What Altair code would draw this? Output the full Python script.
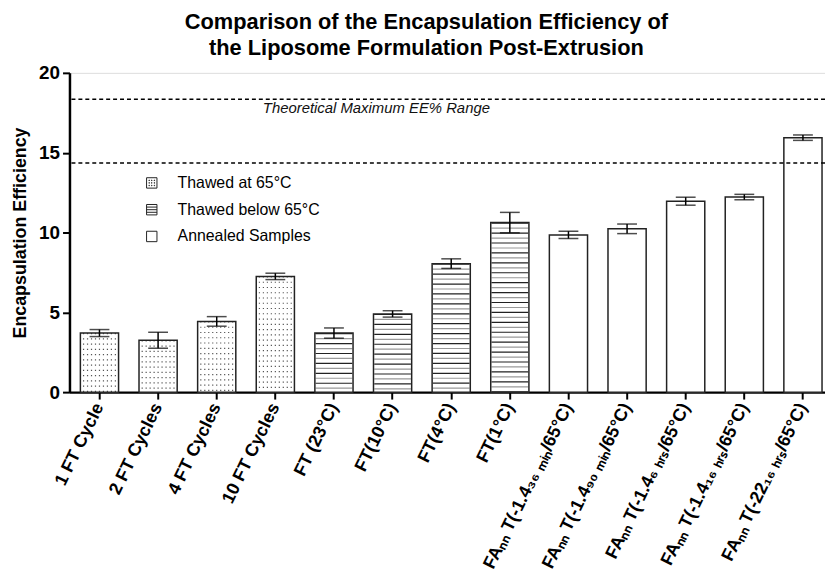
import altair as alt
import pandas as pd

# ---- data ----
labels = [
    "1 FT Cycle", "2 FT Cycles", "4 FT Cycles", "10 FT Cycles",
    "FT (23°C)", "FT(10°C)", "FT(4°C)", "FT(1°C)",
    "FAₙₙ T(-1.4₃₆ ₘᵢₙ/65°C)", "FAₙₙ T(-1.4₉₀ ₘᵢₙ/65°C)",
    "FAₙₙ T(-1.4₆ ₕᵣₛ/65°C)", "FAₙₙ T(-1.4₁₆ ₕᵣₛ/65°C)",
    "FAₙₙ T(-22₁₆ ₕᵣₛ/65°C)",
]
values = [3.70, 3.25, 4.43, 7.25, 3.70, 4.90, 8.05, 10.62, 9.85, 10.23, 11.96, 12.22, 15.94]
errors = [0.22, 0.50, 0.30, 0.20, 0.32, 0.20, 0.30, 0.64, 0.23, 0.30, 0.25, 0.17, 0.17]
group_names = ["Thawed at 65°C", "Thawed below 65°C", "Annealed Samples"]
groups = [group_names[0]] * 4 + [group_names[1]] * 4 + [group_names[2]] * 5
theoretical_range = [18.35, 14.35]
range_label = "Theoretical Maximum EE% Range"
y_ticks = [0, 5, 10, 15, 20]

df = pd.DataFrame({"label": labels, "value": values, "err": errors, "group": groups})
df["lo"] = df["value"] - df["err"]
df["hi"] = df["value"] + df["err"]

# dot-pattern columns for the "thawed at 65" bars (same values, one row per dot column)
n_cols = 9
dots = pd.DataFrame(
    [{"label": r.label, "value": r.value, "col": c}
     for r in df[df.group == group_names[0]].itertuples() for c in range(n_cols)]
)
stripes = df[df.group == group_names[1]]

FONT = "Liberation Sans"

x = alt.X("label:N", sort=labels,
          scale=alt.Scale(paddingInner=0.3488, paddingOuter=0.1184, align=0.786),
          axis=alt.Axis(title=None, labelAngle=-64, labelAlign="right", labelBaseline="middle",
                        labelFont=FONT, labelFontSize=18, labelFontWeight="bold", labelColor="black",
                        labelPadding=5, tickSize=7, tickWidth=2, tickColor="black",
                        domainWidth=2.5, domainColor="black", labelLimit=400))
y_scale = alt.Scale(domain=[0, 20], nice=False)
y = alt.Y("value:Q", scale=y_scale,
          axis=alt.Axis(title="Encapsulation  Efficiency", values=y_ticks, grid=False,
                        titleFont=FONT, titleFontSize=18, titleFontWeight="bold", titleColor="black",
                        titlePadding=9,
                        labelFont=FONT, labelFontSize=19, labelFontWeight="bold", labelColor="black",
                        labelPadding=3, tickSize=7, tickWidth=2, tickColor="black",
                        domainWidth=2.5, domainColor="black"))

base = alt.Chart(df)

bars_fill = base.mark_bar(fill="white", strokeWidth=0).encode(x=x, y=y)

dot_layer = alt.Chart(dots).mark_rule(color="#555", strokeWidth=1.2, strokeDash=[1.2, 4.1]).encode(
    x=alt.X("label:N", sort=labels),
    xOffset=alt.XOffset("col:O", scale=alt.Scale(paddingInner=0, paddingOuter=0.3)),
    y=alt.Y("value:Q", scale=y_scale),
    y2=alt.datum(0),
)

stripe_black = alt.Chart(stripes).mark_rule(color="#222", strokeWidth=37, strokeDash=[1.2, 8.8]).encode(
    x=alt.X("label:N", sort=labels), y=alt.Y("value:Q", scale=y_scale), y2=alt.datum(0))
stripe_gray = alt.Chart(stripes).mark_rule(color="#999", strokeWidth=37, strokeDash=[1.2, 8.8],
                                           strokeDashOffset=-5).encode(
    x=alt.X("label:N", sort=labels), y=alt.Y("value:Q", scale=y_scale), y2=alt.datum(0))

bars_outline = base.mark_bar(fillOpacity=0, stroke="#222", strokeWidth=1.5).encode(
    x=alt.X("label:N", sort=labels), y=alt.Y("value:Q", scale=y_scale))

err_rule = base.mark_rule(color="black", strokeWidth=1.5).encode(
    x=alt.X("label:N", sort=labels), y=alt.Y("lo:Q", scale=y_scale), y2="hi:Q")
cap_hi = base.mark_tick(color="black", size=20, thickness=1.5, orient="horizontal").encode(
    x=alt.X("label:N", sort=labels), y=alt.Y("hi:Q", scale=y_scale))
cap_lo = base.mark_tick(color="black", size=20, thickness=1.5, orient="horizontal").encode(
    x=alt.X("label:N", sort=labels), y=alt.Y("lo:Q", scale=y_scale))

# legend via hidden points with custom pattern symbols
dot_path = ("M-1,-1H1V1H-1Z"
            "M-0.55,-0.55h0.1v0.1h-0.1Z M-0.05,-0.55h0.1v0.1h-0.1Z M0.45,-0.55h0.1v0.1h-0.1Z"
            "M-0.55,-0.05h0.1v0.1h-0.1Z M-0.05,-0.05h0.1v0.1h-0.1Z M0.45,-0.05h0.1v0.1h-0.1Z"
            "M-0.55,0.45h0.1v0.1h-0.1Z M-0.05,0.45h0.1v0.1h-0.1Z M0.45,0.45h0.1v0.1h-0.1Z")
stripe_path = "M-1,-1H1V1H-1Z M-1,-0.5H1 M-1,0H1 M-1,0.5H1"
legend_layer = base.mark_point(filled=False, color="#222", opacity=0).encode(
    x=alt.X("label:N", sort=labels), y=alt.Y("value:Q", scale=y_scale),
    shape=alt.Shape("group:N", sort=group_names,
                    scale=alt.Scale(domain=group_names, range=[dot_path, stripe_path, "square"]),
                    legend=alt.Legend(title=None, orient="none", legendX=75, legendY=103,
                                      labelFont=FONT, labelFontSize=16, labelColor="black",
                                      labelOffset=18, rowPadding=11,
                                      symbolSize=110, symbolOpacity=1, symbolFillColor="white",
                                      symbolStrokeColor="#222", symbolStrokeWidth=1)),
)

range_df = pd.DataFrame({"y": theoretical_range})
range_lines = alt.Chart(range_df).mark_rule(color="black", strokeWidth=1.5, strokeDash=[4, 3]).encode(
    y=alt.Y("y:Q", scale=y_scale))
range_text = alt.Chart(pd.DataFrame({"y": [theoretical_range[0]], "t": [range_label]})).mark_text(
    font=FONT, fontSize=15, fontStyle="italic", align="left", baseline="top", dy=2, color="#111"
).encode(x=alt.value(195), y=alt.Y("y:Q", scale=y_scale), text="t:N")

chart = alt.layer(
    bars_fill, dot_layer, stripe_black, stripe_gray, bars_outline,
    err_rule, cap_hi, cap_lo, range_lines, range_text, legend_layer,
).properties(
    width=762, height=322,
    title=alt.TitleParams(["Comparison of the Encapsulation Efficiency of",
                           "the Liposome Formulation Post-Extrusion"],
                          font=FONT, fontSize=22, fontWeight="bold", color="black",
                          anchor="middle", offset=4, lineHeight=26, dx=-21),
    autosize=alt.AutoSizeParams(type="none"),
    padding={"left": 62, "top": 63, "right": 0, "bottom": 180},
).configure_view(stroke=None).configure(background="white")

chart.save("out.html", embed_options={"renderer": "svg", "actions": False})
